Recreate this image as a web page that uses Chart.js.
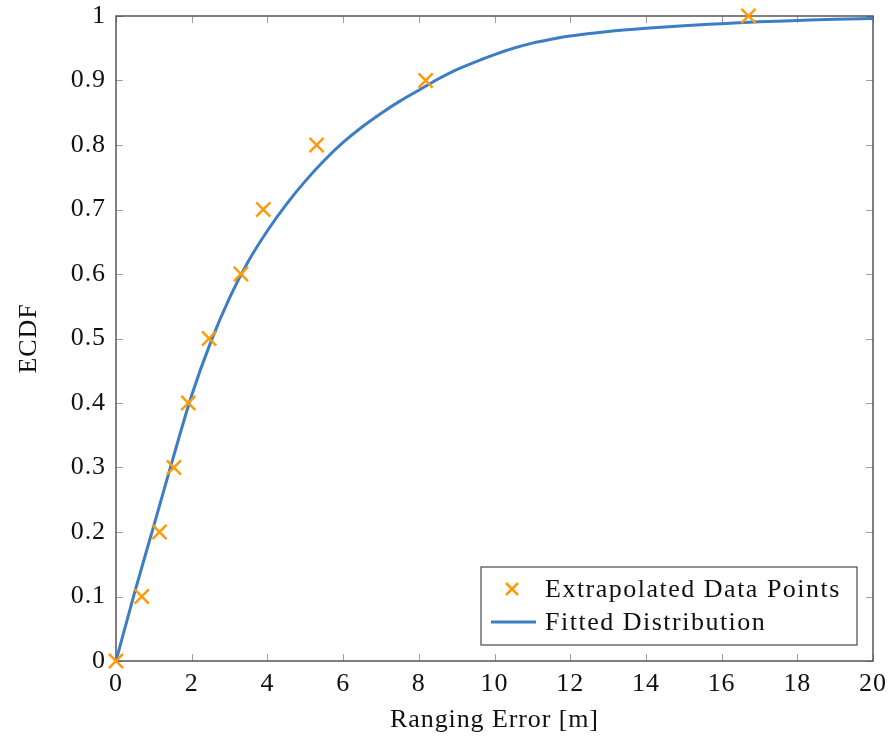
<!DOCTYPE html>
<html>
<head>
<meta charset="utf-8">
<script src="https://cdn.jsdelivr.net/npm/chart.js@4"></script>
<style>
  html, body { margin: 0; padding: 0; background: #fff; }
  #wrap { width: 890px; height: 740px; }
</style>
</head>
<body>
<div id="wrap"><canvas id="c" width="890" height="740"></canvas></div>
<script>
// Empirical points (ranging error in metres, cumulative probability)
const pointErrors = [0, 0.68, 1.15, 1.53, 1.91, 2.46, 3.30, 3.89, 5.30, 8.18, 16.71];
const pointEcdf   = [0, 0.1, 0.2, 0.3, 0.4, 0.5, 0.6, 0.7, 0.8, 0.9, 1.0];

// Fitted CDF sampled along the error axis
const fitErrors = [0, 0.5, 1, 1.5, 2, 2.5, 3, 3.5, 4, 4.5, 5, 5.5, 6, 6.5, 7, 7.5, 8, 8.5, 9, 9.5, 10, 10.5, 11, 11.5, 12, 13, 14, 15, 16, 17, 18, 19, 20];
const fitCdf    = [0, 0.108, 0.210, 0.313, 0.412, 0.494, 0.563, 0.620, 0.667, 0.708, 0.744, 0.776, 0.804, 0.828, 0.849, 0.868, 0.885, 0.902, 0.917, 0.929, 0.940, 0.950, 0.958, 0.964, 0.969, 0.976, 0.981, 0.985, 0.988, 0.991, 0.993, 0.995, 0.996];

// Axis ticks
const xTickValues = [0, 2, 4, 6, 8, 10, 12, 14, 16, 18, 20];
const yTickValues = [0, 0.1, 0.2, 0.3, 0.4, 0.5, 0.6, 0.7, 0.8, 0.9, 1];
const yTickLabels = ['0', '0.1', '0.2', '0.3', '0.4', '0.5', '0.6', '0.7', '0.8', '0.9', '1'];

const seriesNames = ['Extrapolated Data Points', 'Fitted Distribution'];

const ORANGE = '#FF9A0A';
const BLUE = '#3C7DC3';
const FONT = '"Liberation Serif", "DejaVu Serif", serif';
const FONT_SIZE = 26;
const SPACING = '0.9px';

// Slightly open letter spacing for all text
const textSpacing = {
  id: 'textSpacing',
  beforeDraw(chart) { chart.ctx.letterSpacing = SPACING; }
};

// Frame with inward tick marks on all four sides
const frameTicks = {
  id: 'frameTicks',
  beforeDatasetsDraw(chart) {
    const { ctx, chartArea: a, scales } = chart;
    const len = 7;
    ctx.save();
    ctx.strokeStyle = '#a0a0a0';
    ctx.lineWidth = 1;
    ctx.beginPath();
    xTickValues.forEach(v => {
      const px = Math.round(scales.x.getPixelForValue(v)) + 0.5;
      ctx.moveTo(px, a.bottom); ctx.lineTo(px, a.bottom - len);
      ctx.moveTo(px, a.top); ctx.lineTo(px, a.top + len);
    });
    yTickValues.forEach(v => {
      const py = Math.round(scales.y.getPixelForValue(v)) + 0.5;
      ctx.moveTo(a.left, py); ctx.lineTo(a.left + len, py);
      ctx.moveTo(a.right, py); ctx.lineTo(a.right - len, py);
    });
    ctx.stroke();
    ctx.strokeStyle = '#4a4a4a';
    ctx.lineWidth = 1.4;
    ctx.strokeRect(a.left, a.top, a.right - a.left, a.bottom - a.top);
    ctx.restore();
  }
};

// Boxed legend in the lower right corner of the plot area
const boxLegend = {
  id: 'boxLegend',
  afterDraw(chart) {
    const { ctx, chartArea: a } = chart;
    const w = 376, h = 78;
    const x0 = a.right - 16 - w, y0 = a.bottom - 16 - h;
    ctx.save();
    ctx.fillStyle = '#fff';
    ctx.fillRect(x0, y0, w, h);
    ctx.strokeStyle = '#4a4a4a';
    ctx.lineWidth = 1.2;
    ctx.strokeRect(x0, y0, w, h);

    const row1 = y0 + 22, row2 = y0 + 55;
    // marker sample
    const mx = x0 + 31, r = 6;
    ctx.strokeStyle = ORANGE;
    ctx.lineWidth = 2.5;
    ctx.beginPath();
    ctx.moveTo(mx - r, row1 - r); ctx.lineTo(mx + r, row1 + r);
    ctx.moveTo(mx + r, row1 - r); ctx.lineTo(mx - r, row1 + r);
    ctx.stroke();
    // line sample
    ctx.strokeStyle = BLUE;
    ctx.lineWidth = 3;
    ctx.beginPath();
    ctx.moveTo(x0 + 10, row2); ctx.lineTo(x0 + 55, row2);
    ctx.stroke();

    ctx.fillStyle = '#111';
    ctx.font = FONT_SIZE + 'px ' + FONT;
    ctx.letterSpacing = '1.5px';
    ctx.textBaseline = 'middle';
    ctx.textAlign = 'left';
    ctx.fillText(seriesNames[0], x0 + 64, row1 + 1);
    ctx.fillText(seriesNames[1], x0 + 64, row2 + 1);
    ctx.restore();
  }
};

// Keep the plot area fixed: no extra room reserved for overhanging tick labels
function noOverhang(scale) {
  scale.paddingTop = 0;
  scale.paddingBottom = 0;
  scale.paddingLeft = 0;
  scale.paddingRight = 0;
}

const ctx = document.getElementById('c').getContext('2d');
new Chart(ctx, {
  data: {
    datasets: [
      {
        type: 'scatter',
        label: seriesNames[0],
        data: pointErrors.map((x, i) => ({ x, y: pointEcdf[i] })),
        showLine: false,
        pointStyle: 'crossRot',
        pointRadius: 10,
        pointBorderWidth: 2.5,
        borderColor: ORANGE,
        backgroundColor: ORANGE,
        clip: false
      },
      {
        type: 'line',
        label: seriesNames[1],
        data: fitErrors.map((x, i) => ({ x, y: fitCdf[i] })),
        borderColor: BLUE,
        borderWidth: 3,
        pointRadius: 0,
        fill: false,
        cubicInterpolationMode: 'monotone',
        clip: false
      }
    ]
  },
  options: {
    responsive: false,
    animation: false,
    events: [],
    layout: { padding: { left: 14, right: 17, top: 16, bottom: 4 } },
    plugins: {
      legend: { display: false },
      tooltip: { enabled: false }
    },
    scales: {
      x: {
        type: 'linear',
        min: 0, max: 20,
        afterBuildTicks(scale) { scale.ticks = xTickValues.map(v => ({ value: v })); },
        afterFit(scale) { scale.height = 740 - 661 - 4; noOverhang(scale); },
        grid: { display: false, drawTicks: false },
        border: { display: false },
        ticks: { color: '#111', font: { family: FONT, size: FONT_SIZE }, padding: 8, maxRotation: 0 },
        title: { display: true, text: 'Ranging Error [m]', color: '#111', font: { family: FONT, size: FONT_SIZE }, padding: { top: 6, bottom: 0 } }
      },
      y: {
        type: 'linear',
        min: 0, max: 1,
        afterBuildTicks(scale) { scale.ticks = yTickValues.map(v => ({ value: v })); },
        afterFit(scale) { scale.width = 116 - 14; noOverhang(scale); },
        grid: { display: false, drawTicks: false },
        border: { display: false },
        ticks: {
          color: '#111', font: { family: FONT, size: FONT_SIZE }, padding: 10,
          callback: (v) => { const i = yTickValues.findIndex(t => Math.abs(t - v) < 1e-9); return i >= 0 ? yTickLabels[i] : ''; }
        },
        title: { display: true, text: 'ECDF', color: '#111', font: { family: FONT, size: FONT_SIZE }, padding: { top: 0, bottom: 0 } }
      }
    }
  },
  plugins: [textSpacing, frameTicks, boxLegend]
});
</script>
</body>
</html>
